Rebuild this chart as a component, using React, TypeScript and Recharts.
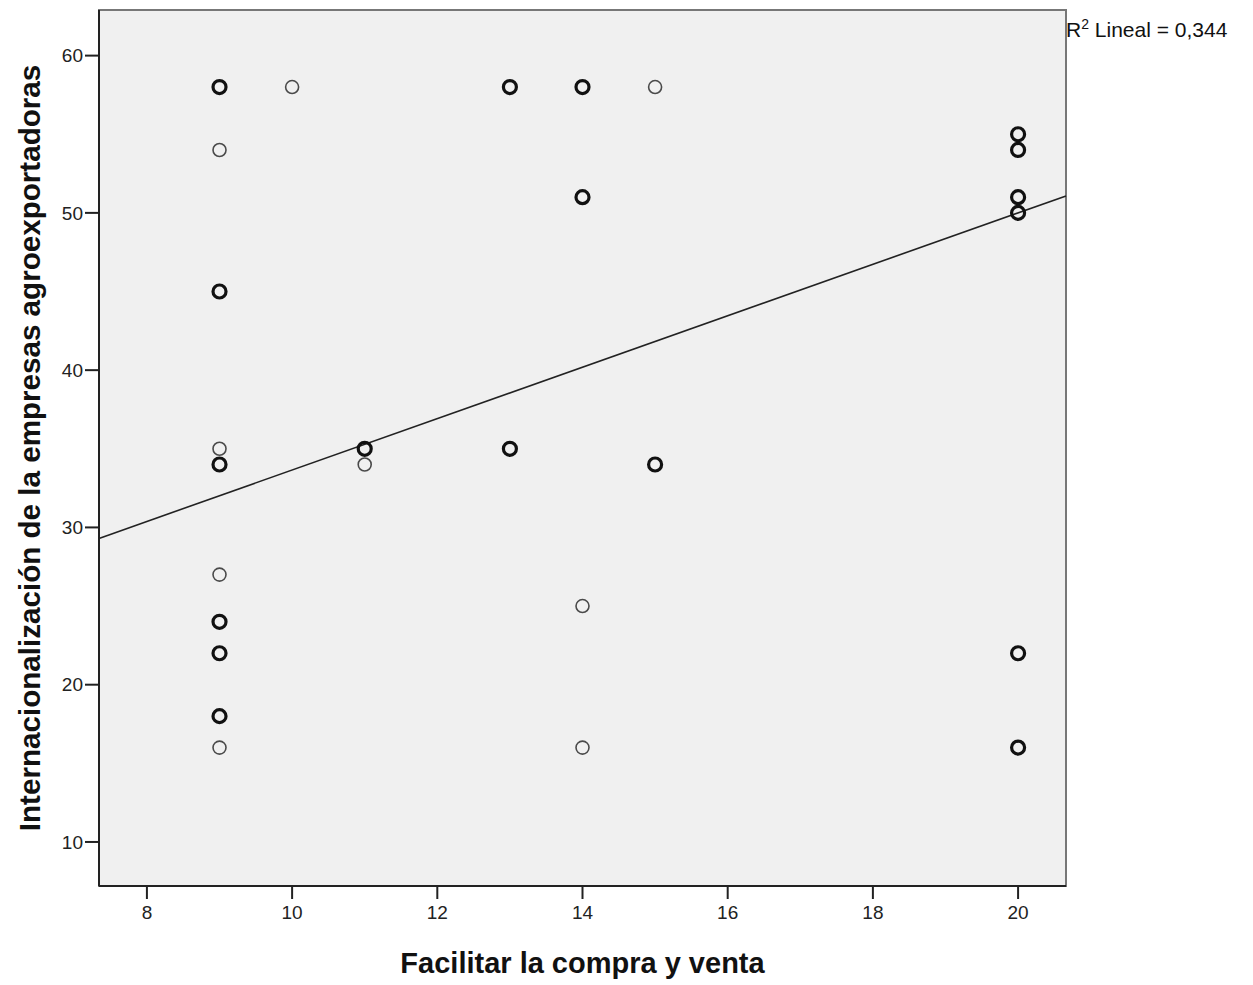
import { ScatterChart, Scatter, XAxis, YAxis, ReferenceArea, ReferenceLine, Label } from 'recharts';

// Facilitar (x) vs Internacionalización (y); bold markers are values shared by several firms
const singleX = [9, 9, 9, 9, 10, 11, 14, 14, 15];
const singleY = [54, 35, 27, 16, 58, 34, 25, 16, 58];
const repeatedX = [9, 9, 9, 9, 9, 9, 11, 13, 13, 14, 14, 15, 20, 20, 20, 20, 20, 20];
const repeatedY = [58, 45, 34, 24, 22, 18, 35, 58, 35, 58, 51, 34, 55, 54, 51, 50, 22, 16];

const xTicks = [8, 10, 12, 14, 16, 18, 20];
const yTicks = [10, 20, 30, 40, 50, 60];
const xDomain = [7.34, 20.66];
const yDomain = [7.2, 62.9];

// linear fit, R² = 0,344
const fitSlope = 1.635;
const fitIntercept = 17.3;
const r2Text = '0,344';

const xTitle = 'Facilitar la compra y venta';
const yTitle = 'Internacionalización de la empresas agroexportadoras';

const FONT = '"Liberation Sans", Arial, sans-serif';

const toPoints = (xs: number[], ys: number[]) => xs.map((x, i) => ({ x, y: ys[i] }));
const singleData = toPoints(singleX, singleY);
const repeatedData = toPoints(repeatedX, repeatedY);

const ThinRing = (props: any) => (
  <circle cx={props.cx} cy={props.cy} r={6.5} fill="none" stroke="#4a4a4a" strokeWidth={1.6} />
);
const BoldRing = (props: any) => (
  <circle cx={props.cx} cy={props.cy} r={6.5} fill="none" stroke="#111" strokeWidth={3.2} />
);

const YTitle = ({ viewBox }: any) => {
  const cx = viewBox.x + 29;
  const cy = viewBox.y + viewBox.height / 2;
  return (
    <text
      x={cx}
      y={cy}
      transform={`rotate(-90, ${cx}, ${cy})`}
      textAnchor="middle"
      dominantBaseline="central"
      fontSize={29.6}
      fontWeight="bold"
      fontFamily={FONT}
      fill="#111"
    >
      {yTitle}
    </text>
  );
};

export default function App() {
  const axisStyle = { stroke: '#222', strokeWidth: 2 };
  const tickStyle = { fill: '#222', fontSize: 19, fontFamily: FONT };
  return (
    <div style={{ position: 'absolute', top: 0, left: 0, width: 1253, height: 985, background: '#fff', fontFamily: FONT }}>
      <ScatterChart width={1253} height={985} margin={{ top: 10, right: 187, bottom: 0, left: 0 }}>
        <ReferenceArea
          x1={xDomain[0]}
          x2={xDomain[1]}
          y1={yDomain[0]}
          y2={yDomain[1]}
          fill="#f0f0f0"
          fillOpacity={1}
          stroke="#777"
          strokeWidth={2}
        />
        <XAxis
          dataKey="x"
          type="number"
          domain={xDomain}
          ticks={xTicks}
          allowDataOverflow
          height={99}
          tickSize={13}
          tickMargin={7}
          axisLine={axisStyle}
          tickLine={axisStyle}
          tick={tickStyle}
        >
          <Label
            value={xTitle}
            position="insideBottom"
            offset={12}
            style={{ fontSize: 29, fontWeight: 'bold', fill: '#111', fontFamily: FONT }}
          />
        </XAxis>
        <YAxis
          dataKey="y"
          type="number"
          domain={yDomain}
          ticks={yTicks}
          allowDataOverflow
          width={99}
          tickSize={14}
          tickMargin={2}
          axisLine={axisStyle}
          tickLine={axisStyle}
          tick={tickStyle}
        >
          <Label content={YTitle} />
        </YAxis>
        <ReferenceLine
          segment={[
            { x: xDomain[0], y: fitIntercept + fitSlope * xDomain[0] },
            { x: xDomain[1], y: fitIntercept + fitSlope * xDomain[1] },
          ]}
          stroke="#222"
          strokeWidth={1.6}
        />
        <Scatter data={singleData} shape={ThinRing} isAnimationActive={false} />
        <Scatter data={repeatedData} shape={BoldRing} isAnimationActive={false} />
      </ScatterChart>
      <div style={{ position: 'absolute', left: 1066, top: 16, fontSize: 21, color: '#111', whiteSpace: 'nowrap' }}>
        R<sup style={{ fontSize: 14 }}>2</sup> Lineal = {r2Text}
      </div>
    </div>
  );
}
